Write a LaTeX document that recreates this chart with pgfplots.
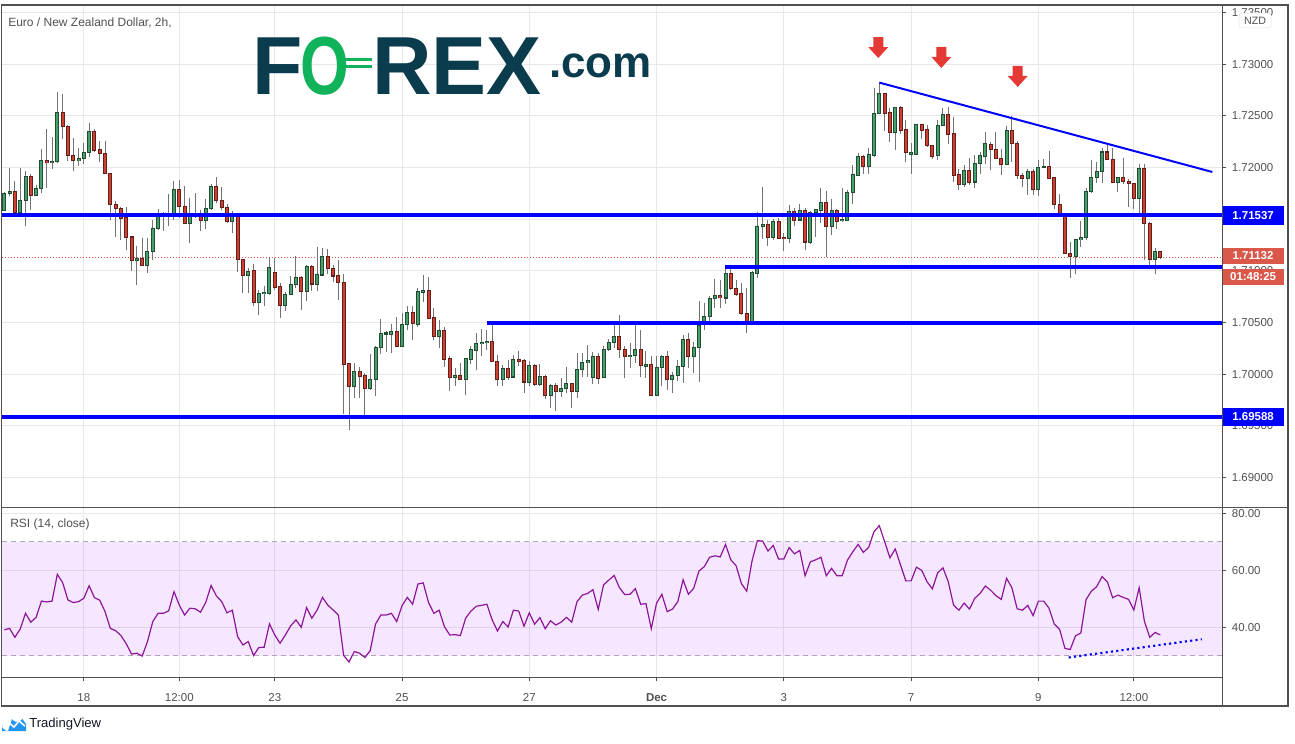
\documentclass[border=0pt]{standalone}
\usepackage{fontspec}
\setmainfont{Liberation Sans}
\usepackage{pgfplots}
\pgfplotsset{compat=1.18}
\usepackage{pgfplotstable}

\definecolor{gridgray}{RGB}{232,232,232}
\definecolor{axisgray}{RGB}{80,80,80}
\definecolor{labelgray}{RGB}{80,80,80}
\definecolor{wickgray}{RGB}{115,115,115}
\definecolor{upfill}{RGB}{70,160,110}
\definecolor{upline}{RGB}{35,75,50}
\definecolor{dnfill}{RGB}{205,65,50}
\definecolor{dnline}{RGB}{100,30,25}
\definecolor{lineblue}{RGB}{0,0,255}
\definecolor{pricered}{RGB}{217,88,73}
\definecolor{arrowred}{RGB}{229,57,53}
\definecolor{rsipurple}{RGB}{142,21,153}
\definecolor{bandfill}{RGB}{153,21,255}
\definecolor{bandline}{RGB}{175,165,180}
\definecolor{logoteal}{RGB}{11,60,77}
\definecolor{logogreen}{RGB}{16,178,90}
\definecolor{tvblue}{RGB}{33,150,243}

\newcommand\ticksize{\fontsize{8.6}{10}\selectfont}

\pgfdeclareplotmark{tvarrow}{%
  \pgfpathmoveto{\pgfpoint{0pt}{0pt}}%
  \pgfpathlineto{\pgfpoint{7.5pt}{8.25pt}}%
  \pgfpathlineto{\pgfpoint{3.75pt}{8.25pt}}%
  \pgfpathlineto{\pgfpoint{3.75pt}{15.75pt}}%
  \pgfpathlineto{\pgfpoint{-3.75pt}{15.75pt}}%
  \pgfpathlineto{\pgfpoint{-3.75pt}{8.25pt}}%
  \pgfpathlineto{\pgfpoint{-7.5pt}{8.25pt}}%
  \pgfpathclose\pgfusepathqfill}

% EUR/NZD 2h candles: index, open, high, low, close
\pgfplotstableread[row sep=\\]{
i o h l c \\
1 1.71584 1.71768 1.71584 1.71752 \\
2 1.71752 1.71994 1.71726 1.71774 \\
3 1.71774 1.71871 1.71568 1.71568 \\
4 1.71565 1.71994 1.71542 1.71687 \\
5 1.71684 1.71968 1.71439 1.71916 \\
6 1.71916 1.71939 1.71590 1.71729 \\
7 1.71729 1.71832 1.71726 1.71800 \\
8 1.71797 1.72181 1.71758 1.72071 \\
9 1.72071 1.72374 1.71806 1.72048 \\
10 1.72048 1.72297 1.71987 1.72065 \\
11 1.72058 1.72729 1.72048 1.72535 \\
12 1.72535 1.72713 1.72277 1.72397 \\
13 1.72400 1.72413 1.72068 1.72116 \\
14 1.72119 1.72287 1.71971 1.72068 \\
15 1.72068 1.72190 1.72016 1.72090 \\
16 1.72087 1.72235 1.72039 1.72148 \\
17 1.72148 1.72432 1.72103 1.72352 \\
18 1.72352 1.72371 1.72155 1.72165 \\
19 1.72171 1.72258 1.72058 1.72135 \\
20 1.72139 1.72258 1.71942 1.71942 \\
21 1.71945 1.71945 1.71494 1.71642 \\
22 1.71645 1.71681 1.71332 1.71603 \\
23 1.71610 1.71623 1.71303 1.71510 \\
24 1.71516 1.71619 1.71203 1.71323 \\
25 1.71329 1.71339 1.71000 1.71103 \\
26 1.71103 1.71242 1.70868 1.71123 \\
27 1.71123 1.71319 1.71052 1.71052 \\
28 1.71052 1.71319 1.70977 1.71190 \\
29 1.71187 1.71494 1.71106 1.71413 \\
30 1.71410 1.71597 1.71394 1.71526 \\
31 1.71526 1.71574 1.71390 1.71542 \\
32 1.71526 1.71745 1.71439 1.71558 \\
33 1.71542 1.71871 1.71494 1.71794 \\
34 1.71794 1.71881 1.71510 1.71623 \\
35 1.71626 1.71823 1.71458 1.71458 \\
36 1.71458 1.71710 1.71271 1.71526 \\
37 1.71526 1.71755 1.71510 1.71539 \\
38 1.71542 1.71590 1.71390 1.71487 \\
39 1.71487 1.71697 1.71410 1.71606 \\
40 1.71603 1.71842 1.71590 1.71823 \\
41 1.71823 1.71910 1.71661 1.71681 \\
42 1.71684 1.71816 1.71590 1.71613 \\
43 1.71616 1.71648 1.71468 1.71481 \\
44 1.71481 1.71581 1.71371 1.71526 \\
45 1.71526 1.71565 1.70990 1.71113 \\
46 1.71116 1.71116 1.70790 1.70955 \\
47 1.70955 1.71026 1.70790 1.70997 \\
48 1.71003 1.71071 1.70661 1.70700 \\
49 1.70700 1.70813 1.70574 1.70781 \\
50 1.70781 1.70852 1.70661 1.70794 \\
51 1.70787 1.71129 1.70765 1.71032 \\
52 1.70984 1.71129 1.70813 1.70845 \\
53 1.70848 1.70887 1.70545 1.70671 \\
54 1.70671 1.70797 1.70613 1.70774 \\
55 1.70771 1.70948 1.70771 1.70868 \\
56 1.70865 1.71148 1.70839 1.70935 \\
57 1.70935 1.70952 1.70623 1.70806 \\
58 1.70806 1.71061 1.70710 1.71042 \\
59 1.71042 1.71058 1.70803 1.70874 \\
60 1.70874 1.71235 1.70806 1.70965 \\
61 1.70961 1.71219 1.70961 1.71139 \\
62 1.71139 1.71210 1.70968 1.71023 \\
63 1.71023 1.71055 1.70897 1.70952 \\
64 1.70955 1.71110 1.70719 1.70887 \\
65 1.70887 1.70974 1.69613 1.70100 \\
66 1.70103 1.70113 1.69461 1.69887 \\
67 1.69887 1.70113 1.69768 1.70026 \\
68 1.70026 1.70074 1.69768 1.69984 \\
69 1.69987 1.70016 1.69603 1.69868 \\
70 1.69868 1.70194 1.69848 1.69948 \\
71 1.69948 1.70271 1.69790 1.70258 \\
72 1.70258 1.70539 1.70197 1.70394 \\
73 1.70390 1.70423 1.70219 1.70400 \\
74 1.70390 1.70490 1.70206 1.70413 \\
75 1.70413 1.70552 1.70274 1.70274 \\
76 1.70274 1.70597 1.70274 1.70481 \\
77 1.70481 1.70658 1.70426 1.70597 \\
78 1.70597 1.70661 1.70329 1.70490 \\
79 1.70487 1.70839 1.70458 1.70800 \\
80 1.70797 1.70965 1.70706 1.70810 \\
81 1.70810 1.70939 1.70545 1.70545 \\
82 1.70548 1.70639 1.70329 1.70365 \\
83 1.70365 1.70529 1.70255 1.70423 \\
84 1.70423 1.70461 1.70074 1.70148 \\
85 1.70152 1.70181 1.69839 1.69974 \\
86 1.69974 1.70058 1.69884 1.69987 \\
87 1.69987 1.70106 1.69942 1.69955 \\
88 1.69955 1.70152 1.69797 1.70152 \\
89 1.70148 1.70274 1.70100 1.70239 \\
90 1.70235 1.70397 1.70042 1.70300 \\
91 1.70297 1.70435 1.70177 1.70310 \\
92 1.70306 1.70426 1.70235 1.70319 \\
93 1.70316 1.70477 1.70123 1.70123 \\
94 1.70123 1.70184 1.69887 1.69955 \\
95 1.69955 1.70094 1.69887 1.70055 \\
96 1.70055 1.70135 1.69945 1.69974 \\
97 1.69974 1.70184 1.69974 1.70142 \\
98 1.70142 1.70223 1.70081 1.70129 \\
99 1.70135 1.70145 1.69819 1.69926 \\
100 1.69926 1.70126 1.69887 1.70084 \\
101 1.70084 1.70106 1.69887 1.69900 \\
102 1.69900 1.70097 1.69887 1.69977 \\
103 1.69977 1.69997 1.69761 1.69800 \\
104 1.69800 1.69910 1.69674 1.69890 \\
105 1.69890 1.69919 1.69645 1.69832 \\
106 1.69832 1.69961 1.69784 1.69861 \\
107 1.69861 1.70068 1.69819 1.69910 \\
108 1.69910 1.69919 1.69674 1.69832 \\
109 1.69832 1.70213 1.69771 1.70045 \\
110 1.70045 1.70203 1.69977 1.70113 \\
111 1.70113 1.70281 1.69974 1.70135 \\
112 1.69974 1.70213 1.69910 1.70171 \\
113 1.70171 1.70210 1.69910 1.69965 \\
114 1.69965 1.70274 1.69965 1.70239 \\
115 1.70239 1.70339 1.70223 1.70306 \\
116 1.70306 1.70474 1.70258 1.70365 \\
117 1.70365 1.70574 1.70158 1.70239 \\
118 1.70239 1.70274 1.69965 1.70171 \\
119 1.70171 1.70306 1.70058 1.70184 \\
120 1.70184 1.70474 1.70110 1.70239 \\
121 1.70239 1.70426 1.69974 1.70081 \\
122 1.70081 1.70229 1.69965 1.70097 \\
123 1.70094 1.70174 1.69800 1.69800 \\
124 1.69800 1.70177 1.69800 1.70065 \\
125 1.70065 1.70184 1.69887 1.70171 \\
126 1.70171 1.70223 1.69848 1.69948 \\
127 1.69948 1.70019 1.69819 1.69987 \\
128 1.69987 1.70135 1.69935 1.70074 \\
129 1.70074 1.70377 1.69919 1.70335 \\
130 1.70335 1.70400 1.70061 1.70171 \\
131 1.70171 1.70316 1.70016 1.70258 \\
132 1.70258 1.70706 1.69926 1.70477 \\
133 1.70500 1.70694 1.70429 1.70558 \\
134 1.70558 1.70758 1.70510 1.70732 \\
135 1.70732 1.70919 1.70642 1.70765 \\
136 1.70765 1.70910 1.70642 1.70739 \\
137 1.70739 1.71029 1.70681 1.70974 \\
138 1.70974 1.71029 1.70816 1.70826 \\
139 1.70829 1.70910 1.70758 1.70777 \\
140 1.70781 1.70887 1.70574 1.70587 \\
141 1.70587 1.70839 1.70400 1.70500 \\
142 1.70500 1.71000 1.70500 1.70984 \\
143 1.70977 1.71571 1.70929 1.71435 \\
144 1.71435 1.71816 1.71306 1.71452 \\
145 1.71452 1.71494 1.71242 1.71329 \\
146 1.71329 1.71506 1.71300 1.71477 \\
147 1.71477 1.71516 1.71313 1.71319 \\
148 1.71323 1.71368 1.71194 1.71310 \\
149 1.71310 1.71635 1.71271 1.71574 \\
150 1.71574 1.71613 1.71435 1.71494 \\
151 1.71494 1.71645 1.71481 1.71587 \\
152 1.71584 1.71606 1.71203 1.71281 \\
153 1.71281 1.71577 1.71258 1.71565 \\
154 1.71565 1.71603 1.71329 1.71597 \\
155 1.71590 1.71800 1.71465 1.71665 \\
156 1.71665 1.71771 1.71135 1.71435 \\
157 1.71435 1.71694 1.71352 1.71584 \\
158 1.71584 1.71603 1.71403 1.71484 \\
159 1.71484 1.71800 1.71477 1.71500 \\
160 1.71494 1.71781 1.71494 1.71761 \\
161 1.71758 1.72029 1.71652 1.71935 \\
162 1.71929 1.72139 1.71923 1.72106 \\
163 1.72106 1.72126 1.71942 1.72013 \\
164 1.72013 1.72194 1.71942 1.72126 \\
165 1.72123 1.72768 1.72103 1.72523 \\
166 1.72523 1.72823 1.72523 1.72716 \\
167 1.72716 1.72716 1.72355 1.72529 \\
168 1.72532 1.72581 1.72248 1.72345 \\
169 1.72345 1.72590 1.72171 1.72581 \\
170 1.72581 1.72594 1.72323 1.72365 \\
171 1.72368 1.72461 1.72055 1.72142 \\
172 1.72132 1.72242 1.71939 1.72145 \\
173 1.72132 1.72416 1.72123 1.72416 \\
174 1.72416 1.72419 1.72274 1.72365 \\
175 1.72368 1.72410 1.72200 1.72210 \\
176 1.72213 1.72219 1.72087 1.72113 \\
177 1.72113 1.72465 1.72074 1.72406 \\
178 1.72406 1.72581 1.72400 1.72516 \\
179 1.72516 1.72587 1.72226 1.72323 \\
180 1.72329 1.72490 1.71861 1.71929 \\
181 1.71935 1.71990 1.71781 1.71842 \\
182 1.71842 1.72026 1.71816 1.71971 \\
183 1.71971 1.72097 1.71832 1.71861 \\
184 1.71861 1.72119 1.71800 1.72039 \\
185 1.72039 1.72152 1.71939 1.72119 \\
186 1.72113 1.72342 1.72032 1.72232 \\
187 1.72226 1.72252 1.71981 1.72177 \\
188 1.72177 1.72345 1.72087 1.72087 \\
189 1.72090 1.72177 1.71932 1.72029 \\
190 1.72029 1.72403 1.72029 1.72361 \\
191 1.72361 1.72500 1.72058 1.72235 \\
192 1.72235 1.72258 1.71887 1.71926 \\
193 1.71926 1.71945 1.71816 1.71894 \\
194 1.71894 1.71990 1.71739 1.71965 \\
195 1.71965 1.71987 1.71739 1.71787 \\
196 1.71787 1.72074 1.71729 1.72003 \\
197 1.72003 1.72081 1.72003 1.72013 \\
198 1.72013 1.72161 1.71887 1.71900 \\
199 1.71906 1.71906 1.71603 1.71642 \\
200 1.71642 1.71742 1.71526 1.71555 \\
201 1.71558 1.71561 1.71171 1.71171 \\
202 1.71171 1.71277 1.70929 1.71139 \\
203 1.71139 1.71313 1.70968 1.71306 \\
204 1.71303 1.71481 1.71229 1.71326 \\
205 1.71326 1.71803 1.71297 1.71771 \\
206 1.71771 1.72077 1.71758 1.71906 \\
207 1.71906 1.72058 1.71848 1.71968 \\
208 1.71965 1.72187 1.71848 1.72152 \\
209 1.72152 1.72229 1.72074 1.72081 \\
210 1.72081 1.72190 1.71858 1.71858 \\
211 1.71858 1.71906 1.71768 1.71906 \\
212 1.71906 1.72090 1.71839 1.71868 \\
213 1.71871 1.71887 1.71623 1.71848 \\
214 1.71848 1.71855 1.71603 1.71700 \\
215 1.71700 1.72035 1.71526 1.71994 \\
216 1.71994 1.72035 1.71106 1.71461 \\
217 1.71461 1.71471 1.71058 1.71113 \\
218 1.71113 1.71223 1.70968 1.71190 \\
219 1.71190 1.71197 1.71116 1.71132 \\
}\candles

% RSI(14, close)
\pgfplotstableread[row sep=\\]{
i r \\
1 39.1 \\ 2 39.6 \\ 3 36.5 \\ 4 39.4 \\ 5 44.9 \\ 6 41.8 \\ 7 43.5 \\ 8 49.2 \\ 9 48.9 \\ 10 49.2 \\
11 58.6 \\ 12 55.7 \\ 13 49.6 \\ 14 48.7 \\ 15 49.0 \\ 16 50.2 \\ 17 54.6 \\ 18 50.4 \\ 19 49.5 \\ 20 45.5 \\
21 39.6 \\ 22 38.8 \\ 23 37.1 \\ 24 34.2 \\ 25 30.6 \\ 26 30.9 \\ 27 29.9 \\ 28 35.0 \\ 29 42.0 \\ 30 44.9 \\
31 44.9 \\ 32 45.8 \\ 33 52.5 \\ 34 47.8 \\ 35 44.3 \\ 36 46.7 \\ 37 46.5 \\ 38 45.3 \\ 39 48.8 \\ 40 54.7 \\
41 51.0 \\ 42 49.0 \\ 43 45.1 \\ 44 46.0 \\ 45 36.7 \\ 46 33.8 \\ 47 35.0 \\ 48 30.1 \\ 49 32.9 \\ 50 33.0 \\
51 41.2 \\ 52 37.3 \\ 53 34.4 \\ 54 37.3 \\ 55 40.5 \\ 56 42.6 \\ 57 40.0 \\ 58 46.9 \\ 59 43.2 \\ 60 46.1 \\
61 50.5 \\ 62 47.8 \\ 63 46.1 \\ 64 44.3 \\ 65 30.1 \\ 66 27.8 \\ 67 31.5 \\ 68 30.9 \\ 69 29.4 \\ 70 31.8 \\
71 41.1 \\ 72 44.3 \\ 73 44.3 \\ 74 44.9 \\ 75 42.0 \\ 76 47.6 \\ 77 50.5 \\ 78 48.1 \\ 79 55.2 \\ 80 55.6 \\
81 48.7 \\ 82 44.9 \\ 83 46.0 \\ 84 40.2 \\ 85 37.3 \\ 86 37.4 \\ 87 37.1 \\ 88 43.2 \\ 89 45.7 \\ 90 47.4 \\
91 47.7 \\ 92 48.1 \\ 93 42.6 \\ 94 38.7 \\ 95 42.0 \\ 96 40.1 \\ 97 46.0 \\ 98 45.7 \\ 99 40.4 \\ 100 45.1 \\
101 41.1 \\ 102 43.4 \\ 103 39.5 \\ 104 42.3 \\ 105 40.8 \\ 106 41.8 \\ 107 43.5 \\ 108 41.8 \\ 109 49.0 \\ 110 51.3 \\
111 51.9 \\ 112 53.2 \\ 113 46.3 \\ 114 54.9 \\ 115 56.6 \\ 116 58.2 \\ 117 53.9 \\ 118 51.5 \\ 119 51.6 \\ 120 53.6 \\
121 48.1 \\ 122 48.3 \\ 123 39.5 \\ 124 48.5 \\ 125 51.6 \\ 126 45.5 \\ 127 46.4 \\ 128 49.0 \\ 129 56.7 \\ 130 51.6 \\
131 53.7 \\ 132 59.8 \\ 133 61.3 \\ 134 64.6 \\ 135 65.1 \\ 136 64.7 \\ 137 69.1 \\ 138 63.7 \\ 139 61.6 \\ 140 55.3 \\
141 52.7 \\ 142 63.3 \\ 143 70.4 \\ 144 70.3 \\ 145 66.8 \\ 146 68.7 \\ 147 64.0 \\ 148 64.0 \\ 149 68.0 \\ 150 65.8 \\
151 67.0 \\ 152 58.1 \\ 153 63.0 \\ 154 63.7 \\ 155 64.6 \\ 156 58.1 \\ 157 60.7 \\ 158 58.1 \\ 159 58.1 \\ 160 63.6 \\
161 66.5 \\ 162 69.1 \\ 163 66.3 \\ 164 68.1 \\ 165 73.6 \\ 166 75.7 \\ 167 70.1 \\ 168 64.4 \\ 169 67.5 \\ 170 61.9 \\
171 56.3 \\ 172 56.3 \\ 173 61.1 \\ 174 60.0 \\ 175 56.0 \\ 176 53.5 \\ 177 59.1 \\ 178 60.9 \\ 179 56.0 \\ 180 47.8 \\
181 46.0 \\ 182 48.5 \\ 183 46.4 \\ 184 50.2 \\ 185 51.9 \\ 186 54.5 \\ 187 53.0 \\ 188 51.1 \\ 189 49.8 \\ 190 57.2 \\
191 53.9 \\ 192 46.5 \\ 193 46.0 \\ 194 47.7 \\ 195 44.1 \\ 196 49.2 \\ 197 49.2 \\ 198 46.7 \\ 199 41.1 \\ 200 39.3 \\
201 32.6 \\ 202 32.2 \\ 203 37.0 \\ 204 38.0 \\ 205 49.8 \\ 206 52.7 \\ 207 54.3 \\ 208 57.8 \\ 209 56.0 \\ 210 50.4 \\
211 51.3 \\ 212 50.5 \\ 213 49.8 \\ 214 46.1 \\ 215 53.9 \\ 216 42.0 \\ 217 36.5 \\ 218 38.2 \\ 219 37.3 \\
}\rsi

\pgfplotsset{
  tvaxis/.style={
    anchor=south west, scale only axis, width=915.45pt,
    xmin=0.51, xmax=230.68,
    axis line style={draw=none},
    xtick={16,34,52,76,100,124,148,172,196,214},
    ytick pos=right, yticklabel pos=right, xtick pos=bottom,
    tick align=outside, major tick length=3pt,
    y tick style={draw=axisgray, line width=0.75pt},
    grid=major, major grid style={draw=gridgray, line width=0.75pt},
    tick label style={font=\ticksize, text=labelgray},
    yticklabel style={anchor=west, inner sep=0pt, xshift=4pt},
    clip mode=individual,
  },
  candle/.style={draw=none, mark=none, forget plot,
    error bars/y dir=both, error bars/y explicit, error bars/error mark=none},
}

\begin{document}
\begin{tikzpicture}
\useasboundingbox (0,0) rectangle (971.25pt,557.25pt);

% ---------- price panel ----------
\begin{axis}[tvaxis,
  at={(1.275pt,177pt)}, height=376.5pt,
  ymin=1.68716, ymax=1.73574,
  xticklabels={}, x tick style={draw=none},
  ytick={1.69,1.695,1.70,1.705,1.71,1.715,1.72,1.725,1.73,1.735},
  yticklabel style={/pgf/number format/.cd, fixed, fixed zerofill, precision=5, assume math mode=true},
]
% last price
\addplot[pricered, line width=0.75pt, dash pattern=on 0.75pt off 1.5pt] coordinates {(0.51,1.71132) (230.68,1.71132)};
% wicks
\addplot[candle, error bars/error bar style={draw=wickgray, line width=0.75pt}]
  table[x=i, y expr=(\thisrow{h}+\thisrow{l})/2, y error expr=(\thisrow{h}-\thisrow{l})/2] {\candles};
% up bodies
\addplot[candle, restrict expr to domain={\thisrow{c}-\thisrow{o}}{0:1},
  error bars/error bar style={draw=upline, line width=3pt}]
  table[x=i, y expr=(\thisrow{o}+\thisrow{c})/2, y error expr=abs(\thisrow{c}-\thisrow{o})/2+0.00005] {\candles};
\addplot[candle, restrict expr to domain={\thisrow{c}-\thisrow{o}}{0:1},
  error bars/error bar style={draw=upfill, line width=1.5pt}]
  table[x=i, y expr=(\thisrow{o}+\thisrow{c})/2, y error expr={max(abs(\thisrow{c}-\thisrow{o})/2-0.00005,0)}] {\candles};
% down bodies
\addplot[candle, restrict expr to domain={\thisrow{c}-\thisrow{o}}{-1:-0.000001},
  error bars/error bar style={draw=dnline, line width=3pt}]
  table[x=i, y expr=(\thisrow{o}+\thisrow{c})/2, y error expr=abs(\thisrow{c}-\thisrow{o})/2+0.00005] {\candles};
\addplot[candle, restrict expr to domain={\thisrow{c}-\thisrow{o}}{-1:-0.000001},
  error bars/error bar style={draw=dnfill, line width=1.5pt}]
  table[x=i, y expr=(\thisrow{o}+\thisrow{c})/2, y error expr={max(abs(\thisrow{c}-\thisrow{o})/2-0.00005,0)}] {\candles};
% support / resistance levels
\addplot[lineblue, line width=3pt] coordinates {(0.51,1.71537) (230.68,1.71537)};
\addplot[lineblue, line width=3pt] coordinates {(136.9,1.71035) (230.68,1.71035)};
\addplot[lineblue, line width=3pt] coordinates {(92.0,1.70497) (230.68,1.70497)};
\addplot[lineblue, line width=3pt] coordinates {(0.51,1.69588) (230.68,1.69588)};
% falling trendline
\addplot[lineblue, line width=1.5pt] coordinates {(166,1.72823) (228.8,1.71958)};
% lower highs
\addplot[only marks, mark=tvarrow, color=arrowred] coordinates {(165.8,1.73061) (177.7,1.72965) (192.1,1.72781)};

\node[fill=lineblue, text=white, font=\bfseries\ticksize, anchor=west, minimum width=45.75pt, minimum height=14pt, inner sep=0pt] at (axis cs:230.68,1.71537) {1.71537};
\node[fill=lineblue, text=white, font=\bfseries\ticksize, anchor=west, minimum width=45.75pt, minimum height=14pt, inner sep=0pt] at (axis cs:230.68,1.69588) {1.69588};
\node[fill=pricered, text=white, font=\bfseries\ticksize, anchor=west, minimum width=45.75pt, minimum height=12pt, inner sep=0pt, yshift=1pt] at (axis cs:230.68,1.71132) {1.71132};
\node[fill=pricered, text=white, font=\bfseries\ticksize, anchor=west, minimum width=45.75pt, minimum height=12pt, inner sep=0pt, yshift=-14.5pt] at (axis cs:230.68,1.71132) {01:48:25};
\end{axis}

% ---------- RSI panel ----------
\begin{axis}[tvaxis,
  at={(1.275pt,49.275pt)}, height=127.5pt,
  ymin=22.44, ymax=82.14,
  ytick={40,60,80},
  xticklabels={18,12:00,23,25,27,\textbf{Dec},3,7,9,12:00},
  x tick style={draw=axisgray, line width=0.75pt},
  xticklabel style={anchor=base, inner sep=0pt, yshift=-15.2pt},
  yticklabel style={/pgf/number format/.cd, fixed, fixed zerofill, precision=2, assume math mode=true},
]
\addplot[draw=none, fill=bandfill, fill opacity=0.1] coordinates {(0.51,30) (230.68,30) (230.68,70) (0.51,70)} \closedcycle;
\addplot[bandline, line width=0.75pt, dash pattern=on 3.75pt off 3pt] coordinates {(0.51,70) (230.68,70)};
\addplot[bandline, line width=0.75pt, dash pattern=on 3.75pt off 3pt] coordinates {(0.51,30) (230.68,30)};
\addplot[rsipurple, line width=0.9pt] table[x=i, y=r] {\rsi};
\addplot[lineblue, line width=1.6pt, dash pattern=on 1.6pt off 2.4pt] coordinates {(201.7,29.4) (226.8,35.8)};
\end{axis}

% ---------- frame, titles, logos ----------
\begin{scope}[x=0.75pt, y=-0.75pt, yshift=557.25pt]
  \draw[axisgray, line width=1pt] (1.7,5) rectangle (1288,706);
  \draw[axisgray, line width=1.2pt] (1.7,507.3) -- (1288,507.3);
  \draw[axisgray, line width=1pt] (1.7,677.3) -- (1222.3,677.3);
  \draw[axisgray, line width=1pt] (1222.3,5) -- (1222.3,706);
  \node[anchor=west, inner sep=0pt, font=\fontsize{9}{10}\selectfont, text=labelgray] at (8,23) {Euro / New Zealand Dollar, 2h,};
  \node[anchor=west, inner sep=0pt, font=\fontsize{9}{10}\selectfont, text=labelgray] at (10,524) {RSI (14, close)};
  \node[draw=gridgray!80!black!40, fill=white, rounded corners=2pt, text=labelgray, font=\fontsize{8}{9}\selectfont, minimum width=24pt, minimum height=11pt, inner sep=0pt] at (1255,20.5) {NZD};
  % FOREX.com logo
  \node[anchor=base west, inner sep=0pt, font=\fontsize{61.8}{62}\selectfont\bfseries, text=logoteal] at (252,95) {F};
  \node[anchor=base west, inner sep=0pt, font=\fontsize{61.8}{62}\selectfont\bfseries, text=logogreen] at (300,95) {\scalebox{0.76}[1]{O}};
  \fill[white] (347,61.5) rectangle (373,65);
  \fill[logogreen] (337,58.5) rectangle (372,61.5);
  \fill[logogreen] (337,65) rectangle (372,68);
  \node[anchor=base west, inner sep=0pt, font=\fontsize{61.8}{62}\selectfont\bfseries, text=logoteal] at (372,95) {REX};
  \node[anchor=base west, inner sep=0pt, font=\fontsize{33}{34}\selectfont\bfseries, text=logoteal] at (549,78) {.com};
  % TradingView mark
  \fill[tvblue] (2,731) -- (2,725) arc[start angle=180, end angle=90, radius=6] -- (12,719) arc[start angle=150, end angle=30, radius=6] -- (26,724) -- (26,731) -- cycle;
  \draw[white, line width=1.2pt] (3,728) -- (8,722) -- (14,727) -- (19,721) -- (25,726);
  \node[anchor=west, inner sep=0pt, font=\fontsize{9.8}{11}\selectfont, text={rgb,255:red,19;green,23;blue,34}] at (29,724) {TradingView};
\end{scope}
\end{tikzpicture}
\end{document}
